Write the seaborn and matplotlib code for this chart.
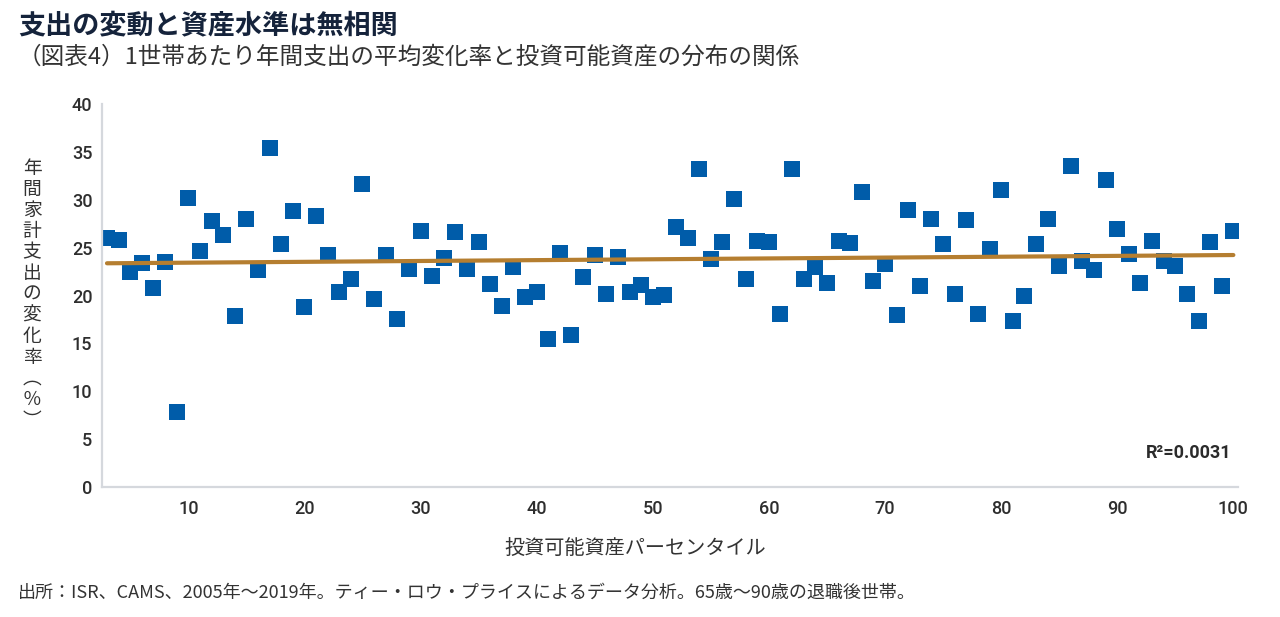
import numpy as np
import pandas as pd
import matplotlib
matplotlib.use("Agg")
import matplotlib.pyplot as plt
import seaborn as sns

# ---- data -------------------------------------------------------------
percentile = list(range(3, 101))  # investable-asset percentile (categories 3..100)
spending_change = [
    26.0, 25.8, 22.5, 23.4, 20.8, 23.5, 7.85, 30.2, 24.7, 27.8,   # 3-12
    26.3, 17.9, 28.0, 22.7, 35.4, 25.4, 28.8, 18.8, 28.3, 24.3,   # 13-22
    20.4, 21.7, 31.7, 19.6, 24.3, 17.6, 22.8, 26.8, 22.1, 23.9,   # 23-32
    26.7, 22.8, 25.6, 21.2, 18.9, 23.0, 19.9, 20.4, 15.5, 24.5,   # 33-42
    15.9, 22.0, 24.2, 20.2, 24.0, 20.4, 21.1, 19.9, 20.1, 27.2,   # 43-52
    26.0, 33.2, 23.8, 25.6, 30.1, 21.7, 25.7, 25.6, 18.1, 33.2,   # 53-62
    21.7, 23.0, 21.3, 25.7, 25.5, 30.8, 21.5, 23.3, 18.0, 28.9,   # 63-72
    21.0, 28.0, 25.4, 20.2, 27.9, 18.1, 24.9, 31.0, 17.3, 20.0,   # 73-82
    25.4, 28.0, 23.1, 33.6, 23.6, 22.7, 32.1, 27.0, 24.4, 21.3,   # 83-92
    25.7, 23.6, 23.1, 20.2, 17.3, 25.6, 21.0, 26.8,               # 93-100
]
x_ticks = [10, 20, 30, 40, 50, 60, 70, 80, 90, 100]
y_ticks = [0, 5, 10, 15, 20, 25, 30, 35, 40]
r2_label = "R²=0.0031"

title = "支出の変動と資産水準は無相関"
subtitle = "（図表4）1世帯あたり年間支出の平均変化率と投資可能資産の分布の関係"
xlabel = "投資可能資産パーセンタイル"
ylabel_chars = list("年間家計支出の変化率") + ["︵", "％", "︶"]
footer = "出所：ISR、CAMS、2005年～2019年。ティー・ロウ・プライスによるデータ分析。65歳～90歳の退職後世帯。"

df = pd.DataFrame({"pct": percentile, "chg": spending_change})

# ---- style ------------------------------------------------------------
sns.set_theme(style="white")
plt.rcParams["font.family"] = ["Noto Sans CJK JP", "DejaVu Sans"]

W, H = 1280, 617
fig = plt.figure(figsize=(W / 100, H / 100), dpi=100)
ax = fig.add_axes([102 / W, 1 - 487 / H, (1238 - 102) / W, (487 - 104.3) / H])

BLUE = "#005CA9"
LINE = "#B57E30"

sns.scatterplot(data=df, x="pct", y="chg", marker="s", s=118, color=BLUE,
                linewidth=0, ax=ax, zorder=2, legend=False)
sns.regplot(data=df, x="pct", y="chg", scatter=False, ci=None, ax=ax,
            line_kws={"color": LINE, "linewidth": 3.0, "zorder": 3,
                      "solid_capstyle": "round"})

ax.set_xlim(2.57, 100.4)
ax.set_ylim(0, 40)
ax.set_xticks(x_ticks)
ax.set_yticks(y_ticks)
ax.set_xlabel("")
ax.set_ylabel("")

for s in ["top", "right"]:
    ax.spines[s].set_visible(False)
for s in ["left", "bottom"]:
    ax.spines[s].set_color("#D5D8DD")
    ax.spines[s].set_linewidth(1.6)

ax.tick_params(axis="y", direction="in", length=20, width=1.2, color="#D0D0D0",
               pad=7, labelsize=13, labelcolor="#2E2E2E")
ax.tick_params(axis="x", length=0, pad=9, labelsize=13, labelcolor="#2E2E2E")
for lab in ax.get_xticklabels() + ax.get_yticklabels():
    lab.set_fontfamily("Roboto")
    lab.set_fontweight("medium")

ax.text(99.8, 3.55, r2_label, ha="right", va="center", fontsize=13,
        fontweight="bold", family=["Roboto", "DejaVu Sans"], color="#2B2B2B")

# ---- texts ------------------------------------------------------------
fig.text(18 / W, 1 - 25 / H, title, ha="left", va="center", fontsize=19.5,
         fontweight="bold", color="#15233B")
fig.text(18 / W, 1 - 57 / H, subtitle, ha="left", va="center", fontsize=17,
         color="#333333")
fig.text(32 / W, 1 - 294 / H, "\n".join(ylabel_chars), ha="center", va="center",
         fontsize=13.5, linespacing=1.0, color="#333333")
fig.text(635 / W, 1 - 548 / H, xlabel, ha="center", va="center", fontsize=14.5,
         color="#333333")
fig.text(18 / W, 1 - 593 / H, footer, ha="left", va="center", fontsize=13,
         color="#333333")

fig.savefig("out.png", dpi=100)
